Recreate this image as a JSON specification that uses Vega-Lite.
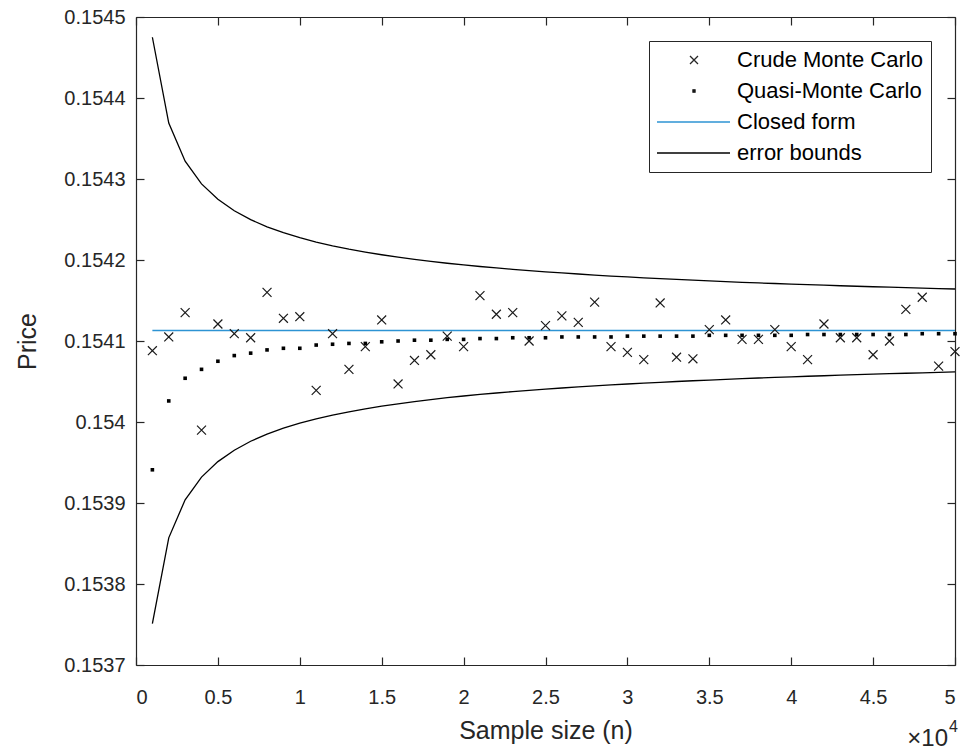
{
  "$schema": "https://vega.github.io/schema/vega-lite/v6.json",
  "width": 819,
  "height": 648,
  "autosize": {"type": "none"},
  "padding": {"left": 136, "top": 17, "right": 9, "bottom": 86},
  "background": "white",
  "config": {
    "view": {"stroke": null},
    "font": "Liberation Sans",
    "axis": {
      "labelFont": "Liberation Sans",
      "titleFont": "Liberation Sans",
      "labelFontSize": 20,
      "titleFontSize": 25,
      "titleFontWeight": "normal",
      "labelColor": "#262626",
      "titleColor": "#262626",
      "domainColor": "#262626",
      "tickColor": "#262626",
      "domainWidth": 1.2,
      "tickWidth": 1.2,
      "tickSize": 8,
      "grid": false
    },
    "legend": {"labelFont": "Liberation Sans"}
  },
  "datasets": {
    "main": [
      {"n": 1000, "crude": 0.154088, "qmc": 0.153941, "upper": 0.154475, "lower": 0.153751},
      {"n": 2000, "crude": 0.154105, "qmc": 0.154026, "upper": 0.154369, "lower": 0.153857},
      {"n": 3000, "crude": 0.154135, "qmc": 0.154054, "upper": 0.154322, "lower": 0.153904},
      {"n": 4000, "crude": 0.15399, "qmc": 0.154065, "upper": 0.154294, "lower": 0.153932},
      {"n": 5000, "crude": 0.154121, "qmc": 0.154075, "upper": 0.1542749, "lower": 0.1539511},
      {"n": 6000, "crude": 0.154109, "qmc": 0.154082, "upper": 0.1542608, "lower": 0.1539652},
      {"n": 7000, "crude": 0.154104, "qmc": 0.154085, "upper": 0.1542498, "lower": 0.1539762},
      {"n": 8000, "crude": 0.15416, "qmc": 0.154089, "upper": 0.154241, "lower": 0.153985},
      {"n": 9000, "crude": 0.154128, "qmc": 0.154091, "upper": 0.1542337, "lower": 0.1539923},
      {"n": 10000, "crude": 0.15413, "qmc": 0.154091, "upper": 0.1542275, "lower": 0.1539985},
      {"n": 11000, "crude": 0.154039, "qmc": 0.154095, "upper": 0.1542221, "lower": 0.1540039},
      {"n": 12000, "crude": 0.154109, "qmc": 0.154096, "upper": 0.1542175, "lower": 0.1540085},
      {"n": 13000, "crude": 0.154065, "qmc": 0.154097, "upper": 0.1542134, "lower": 0.1540126},
      {"n": 14000, "crude": 0.154093, "qmc": 0.154097, "upper": 0.1542098, "lower": 0.1540162},
      {"n": 15000, "crude": 0.154126, "qmc": 0.154099, "upper": 0.1542065, "lower": 0.1540195},
      {"n": 16000, "crude": 0.154047, "qmc": 0.1541, "upper": 0.1542035, "lower": 0.1540225},
      {"n": 17000, "crude": 0.154076, "qmc": 0.154101, "upper": 0.1542008, "lower": 0.1540252},
      {"n": 18000, "crude": 0.154083, "qmc": 0.154101, "upper": 0.1541983, "lower": 0.1540277},
      {"n": 19000, "crude": 0.154106, "qmc": 0.154102, "upper": 0.154196, "lower": 0.15403},
      {"n": 20000, "crude": 0.154093, "qmc": 0.154102, "upper": 0.1541939, "lower": 0.1540321},
      {"n": 21000, "crude": 0.154156, "qmc": 0.154103, "upper": 0.154192, "lower": 0.154034},
      {"n": 22000, "crude": 0.154133, "qmc": 0.154103, "upper": 0.1541902, "lower": 0.1540358},
      {"n": 23000, "crude": 0.154135, "qmc": 0.154104, "upper": 0.1541885, "lower": 0.1540375},
      {"n": 24000, "crude": 0.1541, "qmc": 0.154104, "upper": 0.1541869, "lower": 0.1540391},
      {"n": 25000, "crude": 0.154119, "qmc": 0.154104, "upper": 0.1541854, "lower": 0.1540406},
      {"n": 26000, "crude": 0.154131, "qmc": 0.154105, "upper": 0.154184, "lower": 0.154042},
      {"n": 27000, "crude": 0.154123, "qmc": 0.154105, "upper": 0.1541827, "lower": 0.1540433},
      {"n": 28000, "crude": 0.154148, "qmc": 0.154105, "upper": 0.1541814, "lower": 0.1540446},
      {"n": 29000, "crude": 0.154093, "qmc": 0.154105, "upper": 0.1541802, "lower": 0.1540458},
      {"n": 30000, "crude": 0.154086, "qmc": 0.154106, "upper": 0.1541791, "lower": 0.1540469},
      {"n": 31000, "crude": 0.154077, "qmc": 0.154106, "upper": 0.154178, "lower": 0.154048},
      {"n": 32000, "crude": 0.154147, "qmc": 0.154106, "upper": 0.154177, "lower": 0.154049},
      {"n": 33000, "crude": 0.15408, "qmc": 0.154106, "upper": 0.154176, "lower": 0.15405},
      {"n": 34000, "crude": 0.154078, "qmc": 0.154106, "upper": 0.1541751, "lower": 0.1540509},
      {"n": 35000, "crude": 0.154114, "qmc": 0.154107, "upper": 0.1541742, "lower": 0.1540518},
      {"n": 36000, "crude": 0.154126, "qmc": 0.154107, "upper": 0.1541733, "lower": 0.1540527},
      {"n": 37000, "crude": 0.154102, "qmc": 0.154107, "upper": 0.1541725, "lower": 0.1540535},
      {"n": 38000, "crude": 0.154102, "qmc": 0.154107, "upper": 0.1541717, "lower": 0.1540543},
      {"n": 39000, "crude": 0.154114, "qmc": 0.154107, "upper": 0.154171, "lower": 0.154055},
      {"n": 40000, "crude": 0.154093, "qmc": 0.154107, "upper": 0.1541702, "lower": 0.1540558},
      {"n": 41000, "crude": 0.154077, "qmc": 0.154108, "upper": 0.1541695, "lower": 0.1540565},
      {"n": 42000, "crude": 0.154121, "qmc": 0.154108, "upper": 0.1541689, "lower": 0.1540571},
      {"n": 43000, "crude": 0.154104, "qmc": 0.154108, "upper": 0.1541682, "lower": 0.1540578},
      {"n": 44000, "crude": 0.154104, "qmc": 0.154108, "upper": 0.1541676, "lower": 0.1540584},
      {"n": 45000, "crude": 0.154083, "qmc": 0.154108, "upper": 0.154167, "lower": 0.154059},
      {"n": 46000, "crude": 0.1541, "qmc": 0.154108, "upper": 0.1541664, "lower": 0.1540596},
      {"n": 47000, "crude": 0.154139, "qmc": 0.154108, "upper": 0.1541658, "lower": 0.1540602},
      {"n": 48000, "crude": 0.154154, "qmc": 0.154109, "upper": 0.1541653, "lower": 0.1540607},
      {"n": 49000, "crude": 0.154069, "qmc": 0.154109, "upper": 0.1541647, "lower": 0.1540613},
      {"n": 50000, "crude": 0.154087, "qmc": 0.154109, "upper": 0.1541642, "lower": 0.1540618}
    ],
    "closed": [
      {"n": 1000, "price": 0.154113},
      {"n": 50000, "price": 0.154113}
    ],
    "legend": [
      {"series": "Crude Monte Carlo"},
      {"series": "Quasi-Monte Carlo"},
      {"series": "Closed form"},
      {"series": "error bounds"}
    ]
  },
  "data": {"name": "main"},
  "layer": [
    {
      "mark": {"type": "line", "color": "black", "strokeWidth": 1.3},
      "encoding": {
        "x": {"field": "n", "type": "quantitative", "scale": {"domain": [0, 50000], "nice": false, "zero": false},
              "axis": {"orient": "top", "offset": -648, "labels": false, "title": null, "domain": false, "ticks": true,
                       "values": [0, 5000, 10000, 15000, 20000, 25000, 30000, 35000, 40000, 45000, 50000]}},
        "y": {"field": "upper", "type": "quantitative", "scale": {"domain": [0.1537, 0.1545], "nice": false, "zero": false},
              "axis": {"orient": "right", "offset": -819, "labels": false, "title": null, "domain": false, "ticks": true,
                       "values": [0.1537, 0.1538, 0.1539, 0.154, 0.1541, 0.1542, 0.1543, 0.1544, 0.1545]}}
      }
    },
    {
      "mark": {"type": "line", "color": "black", "strokeWidth": 1.3},
      "encoding": {
        "x": {"field": "n", "type": "quantitative",
              "axis": {"orient": "bottom", "offset": -648, "labels": false, "title": null, "domain": true, "ticks": true,
                       "values": [0, 5000, 10000, 15000, 20000, 25000, 30000, 35000, 40000, 45000, 50000]}},
        "y": {"field": "lower", "type": "quantitative",
              "axis": {"orient": "left", "offset": -819, "labels": false, "title": null, "domain": true, "ticks": true,
                       "values": [0.1537, 0.1538, 0.1539, 0.154, 0.1541, 0.1542, 0.1543, 0.1544, 0.1545]}}
      }
    },
    {
      "data": {"name": "closed"},
      "mark": {"type": "line", "color": "#2d93d3", "strokeWidth": 1.6},
      "encoding": {
        "x": {"field": "n", "type": "quantitative", "axis": null},
        "y": {"field": "price", "type": "quantitative", "axis": null}
      }
    },
    {
      "mark": {"type": "point", "shape": "square", "filled": true, "color": "black", "size": 13, "opacity": 1},
      "encoding": {
        "x": {"field": "n", "type": "quantitative", "axis": null},
        "y": {"field": "qmc", "type": "quantitative", "axis": null}
      }
    },
    {
      "mark": {"type": "point", "shape": "M-1,-1L1,1M1,-1L-1,1", "filled": false, "color": "#1a1a1a", "size": 80, "strokeWidth": 1.2, "opacity": 1},
      "encoding": {
        "x": {"field": "n", "type": "quantitative",
              "axis": {"orient": "bottom", "title": "Sample size (n)", "ticks": false, "labelPadding": 22,
                       "values": [0, 5000, 10000, 15000, 20000, 25000, 30000, 35000, 40000, 45000, 50000],
                       "labelExpr": "'' + (datum.value / 10000)", "titleY": 65, "titleBaseline": "middle"}},
        "y": {"field": "crude", "type": "quantitative", "title": "Price",
              "axis": {"orient": "left", "ticks": false, "labelPadding": 11, "format": ".4~f",
                       "values": [0.1537, 0.1538, 0.1539, 0.154, 0.1541, 0.1542, 0.1543, 0.1544, 0.1545],
                       "titleX": -109, "titleY": 324, "titleBaseline": "middle", "titleAlign": "center", "titleAngle": -90}}
      }
    },
    {
      "data": {"name": "legend"},
      "mark": {"type": "point", "filled": false, "opacity": 0},
      "encoding": {
        "color": {"field": "series", "type": "nominal",
                  "scale": {"domain": ["Crude Monte Carlo", "Quasi-Monte Carlo", "Closed form", "error bounds"],
                            "range": ["#262626", "black", "#2d93d3", "black"]},
                  "legend": {"title": null, "orient": "top-right", "offset": 24, "padding": 8, "rowPadding": 9,
                             "labelFontSize": 22, "labelColor": "black", "symbolSize": 100, "symbolStrokeWidth": 1.3,
                             "symbolOpacity": 1, "labelOffset": 58, "strokeColor": "#262626", "fillColor": "white",
                             "labelLimit": 400}},
        "shape": {"field": "series", "type": "nominal",
                  "scale": {"domain": ["Crude Monte Carlo", "Quasi-Monte Carlo", "Closed form", "error bounds"],
                            "range": ["M4.4,-0.8L6,0.8M6,-0.8L4.4,0.8", "M5,-0.2H5.4V0.2H5Z", "M-2.2,0H12.4", "M-2.2,0H12.4"]}}
      }
    },
    {
      "data": {"values": [{}]},
      "mark": {"type": "text", "text": "×10", "align": "right", "baseline": "middle", "fontSize": 24, "color": "#262626", "dx": -7, "dy": 74},
      "encoding": {
        "x": {"datum": 50000, "type": "quantitative", "axis": null},
        "y": {"datum": 0.1537, "type": "quantitative", "axis": null}
      }
    },
    {
      "data": {"values": [{}]},
      "mark": {"type": "text", "text": "4", "align": "left", "baseline": "middle", "fontSize": 16, "color": "#262626", "dx": -6, "dy": 62},
      "encoding": {
        "x": {"datum": 50000, "type": "quantitative", "axis": null},
        "y": {"datum": 0.1537, "type": "quantitative", "axis": null}
      }
    }
  ],
  "resolve": {"axis": {"x": "independent", "y": "independent"}}
}
